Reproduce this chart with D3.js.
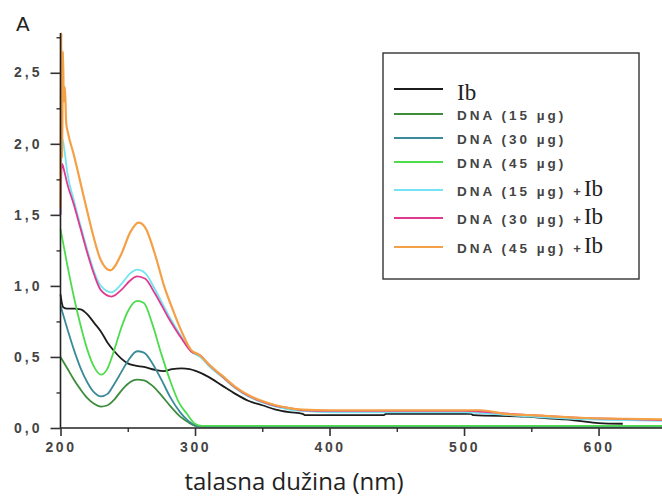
<!DOCTYPE html>
<html><head><meta charset="utf-8">
<script src="https://cdn.jsdelivr.net/npm/d3@7/dist/d3.min.js"></script>
<style>body{margin:0;background:#fff}svg{display:block}</style>
</head><body>
<svg id="c" width="662" height="497"></svg>
<script>
// ---- data ----
const seriesNames = ["Ib","DNA (15 µg)","DNA (30 µg)","DNA (45 µg)","DNA (15 µg) + Ib","DNA (30 µg) + Ib","DNA (45 µg) + Ib"];
const seriesColors = ["#1c1c1c","#3d8d3d","#3a8a98","#4ddc4d","#72e4f2","#e03a8e","#f4a046"];
const xTicks = [200,300,400,500,600];
const yTicks = [0,0.5,1.0,1.5,2.0,2.5];
const yTickLabels = ["0,0","0,5","1,0","1,5","2,0","2,5"];

const ib = [[200,0.94],[201,0.88],[202,0.85],[205,0.84],[210,0.84],[215,0.835],[220,0.8],[225,0.74],[230,0.68],[235,0.6],[240,0.54],[245,0.49],[250,0.455],[255,0.44],[262,0.43],[270,0.41],[277,0.4],[283,0.415],[290,0.42],[296,0.415],[301,0.4],[310,0.36],[320,0.3],[330,0.24],[340,0.19],[350,0.16],[360,0.13],[370,0.112],[380,0.1],[382,0.09],[440,0.09],[442,0.1],[505,0.1],[507,0.09],[545,0.08],[560,0.07],[575,0.06],[585,0.05],[600,0.035],[618,0.03]];
const dna15 = [[200,0.5],[205,0.42],[210,0.34],[215,0.27],[220,0.21],[225,0.17],[230,0.151],[235,0.16],[240,0.2],[245,0.26],[250,0.31],[257,0.34],[262,0.335],[268,0.3],[275,0.23],[282,0.15],[289,0.08],[295,0.04],[300,0.015],[305,0.01],[600,0.01],[650,0.012]];
const dna30 = [[200,0.86],[205,0.7],[210,0.55],[215,0.42],[220,0.32],[225,0.25],[230,0.222],[235,0.24],[240,0.31],[245,0.39],[250,0.47],[257,0.54],[262,0.53],[268,0.46],[275,0.34],[282,0.21],[289,0.11],[295,0.05],[300,0.02],[305,0.012],[650,0.012]];
const dna45 = [[200,1.4],[205,1.15],[210,0.92],[215,0.72],[220,0.55],[225,0.43],[230,0.375],[235,0.42],[240,0.55],[245,0.7],[250,0.82],[257,0.895],[262,0.88],[268,0.74],[275,0.52],[282,0.32],[288,0.18],[294,0.1],[300,0.03],[305,0.015],[650,0.015]];
const dna15ib = [[200,1.5],[201,2.05],[203,1.95],[205,1.8],[210,1.6],[215,1.42],[220,1.25],[225,1.1],[230,1.0],[238,0.955],[245,1.01],[252,1.09],[257,1.115],[263,1.09],[270,0.98],[280,0.8],[290,0.64],[297,0.54],[304,0.5],[310,0.44],[320,0.36],[330,0.28],[340,0.22],[350,0.18],[360,0.15],[370,0.13],[380,0.12],[400,0.11],[500,0.11],[520,0.1],[550,0.08],[580,0.065],[620,0.055],[650,0.05]];
const dna30ib = [[200,1.5],[201,1.86],[203,1.8],[205,1.72],[210,1.57],[215,1.4],[220,1.23],[225,1.08],[230,0.97],[238,0.925],[245,0.97],[252,1.04],[257,1.067],[263,1.05],[270,0.95],[280,0.78],[290,0.63],[297,0.54],[304,0.51],[310,0.45],[320,0.365],[330,0.285],[340,0.225],[350,0.185],[360,0.155],[370,0.14],[380,0.125],[400,0.12],[500,0.12],[520,0.11],[550,0.09],[580,0.075],[620,0.062],[650,0.055]];
const dna45ib = [[200,1.55],[200.6,2.78],[201.2,1.9],[201.8,2.65],[202.5,2.3],[203.3,2.4],[204.2,2.15],[205.5,2.08],[210,1.92],[215,1.72],[220,1.52],[225,1.33],[230,1.18],[237,1.11],[245,1.22],[252,1.38],[258,1.445],[263,1.41],[270,1.23],[277,1.0],[284,0.82],[290,0.68],[297,0.55],[304,0.51],[310,0.45],[320,0.37],[330,0.29],[340,0.23],[350,0.19],[360,0.16],[370,0.14],[380,0.13],[400,0.125],[512,0.125],[530,0.1],[550,0.09],[586,0.072],[620,0.065],[650,0.06]];
const seriesData = [ib,dna15,dna30,dna45,dna15ib,dna30ib,dna45ib];

// ---- chart ----
const svg = d3.select("#c");
const x = d3.scaleLinear().domain([200,650]).range([60.5,665.8]);
const y = d3.scaleLinear().domain([0,2.78]).range([428,33]);
const tickFont = "Liberation Sans, Arial, sans-serif";

const line = d3.line().x(d=>x(d[0])).y(d=>y(d[1])).curve(d3.curveMonotoneX);
seriesData.forEach((s,i)=>{
  svg.append("path").attr("d",line(s)).attr("fill","none")
    .attr("stroke",seriesColors[i]).attr("stroke-width", i===6?2.2:1.8)
    .attr("stroke-linejoin","round");
});

// axes
const yMin = svg.append("g").attr("transform","translate(60.5,0)")
  .call(d3.axisLeft(y).tickValues(d3.range(0.25,2.8,0.5)).tickSize(4).tickFormat(""));
yMin.select(".domain").remove();
const yMaj = svg.append("g").attr("transform","translate(60.5,0)")
  .call(d3.axisLeft(y).tickValues(yTicks).tickSize(10).tickPadding(8).tickFormat((d,i)=>yTickLabels[i]));
yMaj.select(".domain").attr("d","M0,"+y(2.78)+"V"+y(0)).attr("stroke","#222").attr("stroke-width",1.6);
yMin.selectAll("line").attr("stroke","#333").attr("stroke-width",1.4);
yMaj.selectAll("line").attr("stroke","#333").attr("stroke-width",1.6);
yMaj.selectAll("text").attr("font-family",tickFont).attr("font-size",14)
  .attr("font-weight","bold").attr("fill","#444").attr("letter-spacing","3px").attr("dy","0.3em");

const xMin = svg.append("g").attr("transform","translate(0,428)")
  .call(d3.axisBottom(x).tickValues(d3.range(250,651,100)).tickSize(4).tickFormat(""));
xMin.select(".domain").remove();
const xMaj = svg.append("g").attr("transform","translate(0,428)")
  .call(d3.axisBottom(x).tickValues(xTicks).tickSize(8).tickPadding(6).tickFormat(d=>String(d)));
xMaj.select(".domain").attr("d","M"+x(200)+",0H662").attr("stroke","#222").attr("stroke-width",1.6);
xMin.selectAll("line").attr("stroke","#333").attr("stroke-width",1.4);
xMaj.selectAll("line").attr("stroke","#333").attr("stroke-width",1.6);
xMaj.selectAll("text").attr("font-family",tickFont).attr("font-size",14)
  .attr("font-weight","bold").attr("fill","#444").attr("letter-spacing","2.5px");

// titles
svg.append("text").attr("x",16).attr("y",31).text("A")
  .attr("font-family","DejaVu Sans, sans-serif").attr("font-size",20).attr("fill","#222");
svg.append("text").attr("x",294).attr("y",490).attr("text-anchor","middle").text("talasna dužina (nm)")
  .attr("font-family","Open Sans, DejaVu Sans, sans-serif").attr("font-size",24).attr("fill","#222");

// legend
const leg = svg.append("g");
leg.append("rect").attr("x",383).attr("y",53).attr("width",256).attr("height",226)
  .attr("fill","#fff").attr("stroke","#333").attr("stroke-width",1.4);
const rowY = [89,114,138,162,190,218,247];
seriesNames.forEach((n,i)=>{
  leg.append("line").attr("x1",394).attr("x2",443).attr("y1",rowY[i]).attr("y2",rowY[i])
    .attr("stroke",seriesColors[i]).attr("stroke-width",1.8);
  const t = leg.append("text").attr("x",457).attr("y",rowY[i]+(i===0?11:6));
  const parts = n.split(" + ");
  if (parts[0]==="Ib") {
    t.append("tspan").text("Ib").attr("font-family","Liberation Serif, Times New Roman, serif").attr("font-size",23).attr("fill","#222");
  } else {
    t.append("tspan").text(parts[0]).attr("font-family",tickFont)
      .attr("font-size",13.5).attr("font-weight","bold").attr("fill","#444").attr("letter-spacing","3px");
    if (parts.length>1) {
      t.append("tspan").text("+").attr("dx",7).attr("font-family",tickFont)
        .attr("font-size",13).attr("font-weight","bold").attr("fill","#444");
      t.append("tspan").text("Ib").attr("dx",3).attr("font-family","Liberation Serif, Times New Roman, serif")
        .attr("font-size",23).attr("fill","#222");
    }
  }
});
</script>
</body></html>
